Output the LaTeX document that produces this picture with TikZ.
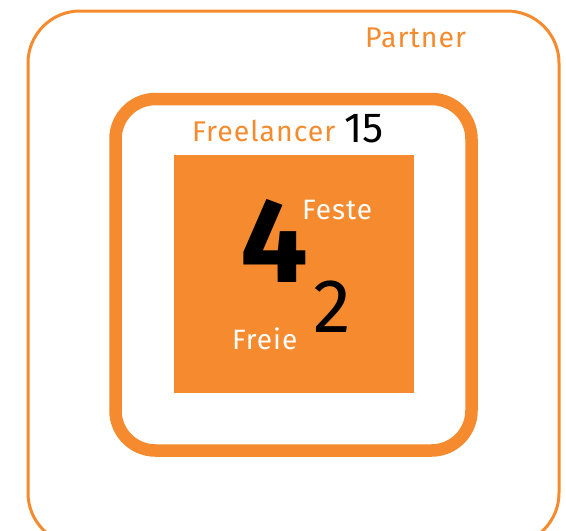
\documentclass[tikz,border=0pt]{standalone}
\usepackage{fontspec}
\setmainfont{Fira Sans}
\definecolor{orangefill}{RGB}{245,139,46}
\tikzset{
  lbl/.style={inner sep=0pt, anchor=base west},
  wide/.style={font=\fontsize{#1}{30}\selectfont\addfontfeatures{LetterSpace=3.5}},
}
\begin{document}
\begin{tikzpicture}[x=1pt,y=-1pt]
  \useasboundingbox (0,0) rectangle (566,531);
  % Partner frame
  \draw[orangefill, line width=3pt, rounded corners=52pt] (28,11) rectangle (559,545);
  % Freelancer frame
  \draw[orangefill, line width=12.5pt, rounded corners=40pt] (115.5,99) rectangle (471.5,450.5);
  % core square
  \fill[orangefill] (174,155) rectangle (414,393);
  % labels
  \node[lbl, text=orangefill, wide=28.5] (partner) at (365,47) {Partner};
  \node[lbl, text=orangefill, wide=28.5] (freelancer) at (192,141) {Freelancer};
  \node[lbl, font=\fontsize{42}{44}\selectfont] (fifteen) at (344,142) {15};
  \node[lbl, font=\bfseries\fontsize{120}{130}\selectfont] (four) at (240,282) {4};
  \node[lbl, text=white, wide=28] (feste) at (302,219) {Feste};
  \node[lbl, font=\fontsize{76}{80}\selectfont] (two) at (313,332) {2};
  \node[lbl, text=white, wide=28] (freie) at (232,349) {Freie};
\end{tikzpicture}
\end{document}
